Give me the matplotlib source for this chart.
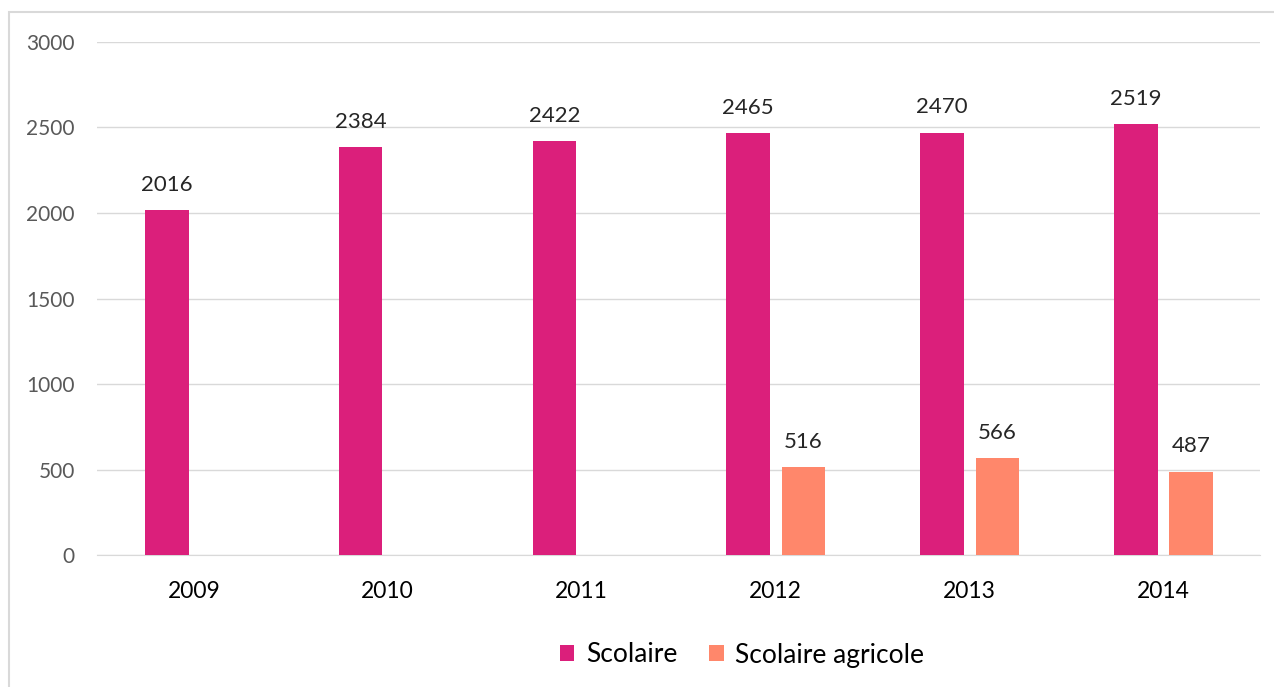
import matplotlib
matplotlib.use('Agg')
import matplotlib.pyplot as plt
import numpy as np
from matplotlib.patches import Rectangle

years = ['2009', '2010', '2011', '2012', '2013', '2014']
scolaire = [2016, 2384, 2422, 2465, 2470, 2519]
agricole = [None, None, None, 516, 566, 487]

plt.rcParams['font.family'] = ['Lato', 'DejaVu Sans']

fig = plt.figure(figsize=(12.74, 6.87), dpi=100)
ax = fig.add_axes([0.0761, 0.1921, 0.9129, 0.7468])

# light frame around the chart
fig.patches.append(Rectangle((9 / 1274, -0.01), 1.02, 1 - 12 / 687 + 0.01,
                             transform=fig.transFigure, fill=False,
                             edgecolor='#d9d9d9', linewidth=1.5))

x = np.arange(len(years))
c1 = '#db1f7b'
c2 = '#ff876b'
b1 = ax.bar(x - 0.14, scolaire, width=0.225, color=c1, label='Scolaire', zorder=3)
ag_x = [xi + 0.145 for xi, v in zip(x, agricole) if v is not None]
ag_v = [v for v in agricole if v is not None]
b2 = ax.bar(ag_x, ag_v, width=0.225, color=c2, label='Scolaire agricole', zorder=3)

for bars in (b1, b2):
    for r in bars:
        ax.annotate(str(int(r.get_height())), (r.get_x() + r.get_width() / 2, r.get_height()),
                    xytext=(0, 11), textcoords='offset points', ha='center', va='bottom',
                    fontsize=16, color='#262626')

ax.set_xlim(-0.5, 5.5)
ax.set_ylim(0, 3000)
ax.set_yticks(range(0, 3001, 500))
ax.set_xticks(x)
ax.set_xticklabels(years)
ax.tick_params(axis='y', length=0, pad=16, labelsize=15, labelcolor='#595959')
ax.tick_params(axis='x', length=0, pad=19, labelsize=16.5, labelcolor='#000000')
ax.grid(axis='y', color='#d9d9d9', linewidth=1, zorder=0)
for s in ['top', 'right', 'left']:
    ax.spines[s].set_visible(False)
ax.spines['bottom'].set_color('#d9d9d9')

fig.legend(handles=[b1, b2], loc='center', bbox_to_anchor=(742 / 1274, 1 - 655 / 687),
           ncol=2, frameon=False, fontsize=19, handlelength=0.55, handleheight=0.55,
           handletextpad=0.45, columnspacing=1.2)

fig.savefig('out.png', dpi=100)
